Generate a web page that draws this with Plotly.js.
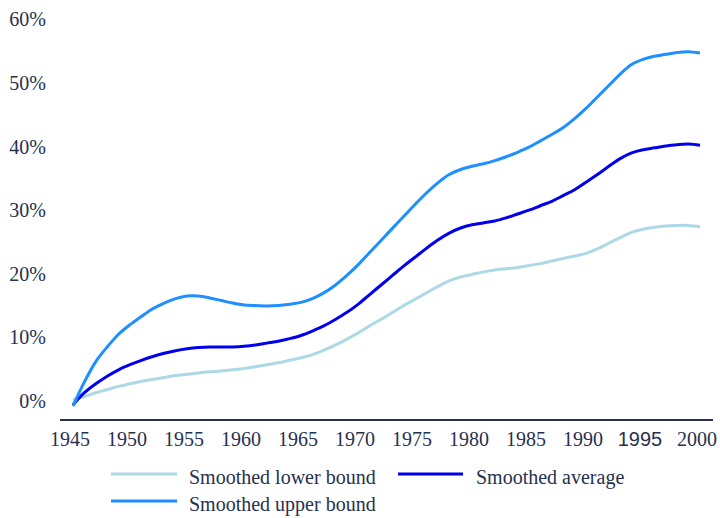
<!DOCTYPE html>
<html>
<head>
<meta charset="utf-8">
<script src="https://cdn.plot.ly/plotly-3.0.1.min.js"></script>
<style>html,body{margin:0;padding:0;background:#fff;}#chart{width:720px;height:518px;}</style>
</head>
<body>
<div id="chart"></div>
<script>
var years = [];
for (var yr = 1945; yr <= 2000; yr++) years.push(yr);

var lowerBound = [0.2,0.7,1.3,1.8,2.3,2.7,3.1,3.4,3.7,4.0,
  4.2,4.4,4.6,4.7,4.9,5.1,5.4,5.7,6.0,6.4,
  6.8,7.3,8.0,8.8,9.7,10.7,11.8,12.8,13.9,15.0,
  16.0,17.0,18.0,18.9,19.5,19.9,20.3,20.6,20.8,21.0,
  21.3,21.6,22.0,22.4,22.8,23.2,23.9,24.8,25.7,26.5,
  27.0,27.3,27.5,27.6,27.6,27.4];

var average = [-0.6,1.3,2.7,3.9,4.9,5.7,6.4,7.0,7.5,7.9,
  8.2,8.4,8.5,8.5,8.5,8.6,8.8,9.1,9.4,9.8,
  10.3,11.0,11.8,12.8,13.9,15.2,16.7,18.2,19.7,21.2,
  22.6,24.0,25.3,26.4,27.2,27.7,28.0,28.3,28.8,29.4,
  30.0,30.7,31.4,32.3,33.2,34.4,35.6,36.9,38.1,39.0,
  39.5,39.8,40.1,40.3,40.4,40.2];

var upperBound = [-0.8,3.0,6.2,8.5,10.5,12.0,13.3,14.5,15.4,16.1,
  16.5,16.5,16.2,15.8,15.4,15.1,15.0,14.95,15.0,15.2,
  15.5,16.1,17.0,18.2,19.7,21.4,23.3,25.2,27.1,29.0,
  30.9,32.7,34.3,35.6,36.4,36.9,37.3,37.8,38.4,39.1,
  39.9,40.9,41.9,43.0,44.4,46.0,47.8,49.6,51.4,52.9,
  53.7,54.2,54.5,54.8,54.9,54.7];

var seriesNames = ['Smoothed lower bound', 'Smoothed average', 'Smoothed upper bound'];
var seriesColors = ['#add8e6', '#0000ee', '#1e8fff'];
var xTickVals = [1945,1950,1955,1960,1965,1970,1975,1980,1985,1990,1995,2000];
var xTickText = ['1945','1950','1955','1960','1965','1970','1975','1980','1985','1990',
  '<span style="font-family:\'Liberation Sans\', Arial, sans-serif;">1995</span>','2000'];
var yTickVals = [0,10,20,30,40,50,60];
var yTickText = ['0%','10%','20%','30%','40%','50%','60%'];

var seriesData = [lowerBound, average, upperBound];
var traces = seriesData.map(function (vals, i) {
  return {
    x: years, y: vals, type: 'scatter', mode: 'lines', name: seriesNames[i],
    line: {color: seriesColors[i], width: 3, shape: 'spline', smoothing: 1},
    showlegend: false, hoverinfo: 'skip'
  };
});

var textColor = '#27304f';
var fontFam = '"Liberation Serif", "Times New Roman", serif';

// custom legend (paper coords)
var legendPos = [
  {lx0: 0.0781, lx1: 0.1792, tx: 0.1945, y: -0.1332},
  {lx0: 0.5176, lx1: 0.6172, tx: 0.6340, y: -0.1332},
  {lx0: 0.0781, lx1: 0.1792, tx: 0.1945, y: -0.1985}
];
var shapes = [], annotations = [];
legendPos.forEach(function (p, i) {
  shapes.push({type: 'line', xref: 'paper', yref: 'paper', x0: p.lx0, x1: p.lx1, y0: p.y, y1: p.y,
    line: {color: seriesColors[i], width: 3}});
  annotations.push({xref: 'paper', yref: 'paper', x: p.tx, y: p.y - 0.008, xanchor: 'left', yanchor: 'middle',
    text: seriesNames[i], showarrow: false, font: {family: fontFam, size: 20, color: textColor}});
});

var layout = {
  width: 720, height: 518,
  margin: {l: 60, r: 7, t: 6, b: 99},
  paper_bgcolor: '#ffffff', plot_bgcolor: '#ffffff',
  font: {family: fontFam, size: 20, color: textColor},
  xaxis: {
    range: [1943.86, 2001.14], tickvals: xTickVals, ticktext: xTickText,
    showgrid: false, zeroline: false, showline: true, linecolor: textColor, linewidth: 2,
    ticks: '', ticklabelstandoff: 1, ticklabelshift: -3, fixedrange: true
  },
  yaxis: {
    range: [-2.83, 62.1], tickvals: yTickVals, ticktext: yTickText,
    showgrid: false, zeroline: false, showline: false, ticks: '', ticklabelstandoff: 13, fixedrange: true
  },
  shapes: shapes,
  annotations: annotations,
  showlegend: false
};

Plotly.newPlot('chart', traces, layout, {staticPlot: true});
</script>
</body>
</html>
